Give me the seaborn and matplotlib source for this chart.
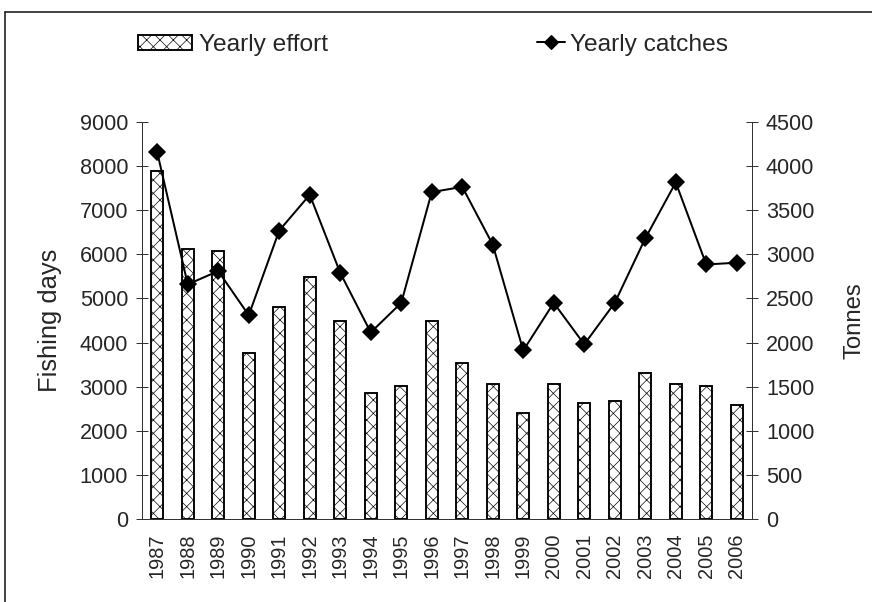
import matplotlib
matplotlib.use("Agg")
import matplotlib.pyplot as plt
from matplotlib.patches import Patch
from matplotlib.lines import Line2D
import seaborn as sns
import pandas as pd

years = ["1987", "1988", "1989", "1990", "1991", "1992", "1993", "1994", "1995", "1996",
         "1997", "1998", "1999", "2000", "2001", "2002", "2003", "2004", "2005", "2006"]
effort = [7900, 6130, 6080, 3770, 4810, 5490, 4500, 2860, 3010, 4500,
          3540, 3050, 2410, 3050, 2640, 2680, 3320, 3050, 3010, 2590]
catches = [4155, 2660, 2810, 2310, 3270, 3675, 2790, 2115, 2450, 3705,
           3765, 3110, 1910, 2450, 1980, 2450, 3180, 3815, 2885, 2905]
left_ticks = [0, 1000, 2000, 3000, 4000, 5000, 6000, 7000, 8000, 9000]
right_ticks = [0, 500, 1000, 1500, 2000, 2500, 3000, 3500, 4000, 4500]

df = pd.DataFrame({"year": years, "effort": effort, "catches": catches})

sns.set_style("white")
plt.rcParams["font.family"] = ["Liberation Sans", "DejaVu Sans"]
plt.rcParams["hatch.linewidth"] = 0.6
plt.rcParams["hatch.color"] = "#333333"

DPI = 80
fig = plt.figure(figsize=(872 / DPI, 602 / DPI), dpi=DPI)
ax = fig.add_axes([142 / 872, 1 - 519 / 602, (752 - 142) / 872, (519 - 122) / 602])

sns.barplot(data=df, x="year", y="effort", ax=ax, color="white", saturation=1,
            edgecolor="black", linewidth=1.7, width=0.4, hatch="xx")

ax2 = ax.twinx()
sns.pointplot(data=df, x="year", y="catches", ax=ax2, color="black",
              markers="D", linestyles="-", markersize=10, linewidth=1.8)

n = len(years)
for a in (ax, ax2):
    a.set_xlim(-0.5, n - 0.5)
    a.grid(False)
ax.set_ylim(0, 9000)
ax2.set_ylim(0, 4500)
ax.set_yticks(left_ticks)
ax2.set_yticks(right_ticks)
ax.set_yticklabels([str(v) for v in left_ticks])
ax2.set_yticklabels([str(v) for v in right_ticks])

ax.set_xticks(range(n))
ax.set_xticklabels(years, rotation=90, fontsize=18)
ax.set_xticks([i - 0.5 for i in range(n + 1)], minor=True)
ax.tick_params(axis="x", which="major", length=0, pad=13)
ax.tick_params(axis="x", which="minor", direction="inout", length=9, width=0.9, color="#333333")
ax2.tick_params(axis="x", which="both", length=0, labelbottom=False)

ax.tick_params(axis="y", direction="inout", length=11, width=0.9, color="#333333",
               labelsize=19.5, pad=7, left=True)
ax2.tick_params(axis="y", direction="inout", length=11, width=0.9, color="#333333",
                labelsize=19.5, pad=7, right=True)

ax.set_xlabel("")
ax.set_ylabel("Fishing days", fontsize=23, labelpad=16)
ax2.set_ylabel("Tonnes", fontsize=21.5, labelpad=26)

for a in (ax, ax2):
    a.spines["top"].set_visible(False)
    for s in ("left", "right", "bottom"):
        a.spines[s].set_color("#333333")
        a.spines[s].set_linewidth(0.9)
    a.patch.set_alpha(0)

# legends
h1 = Patch(facecolor="white", edgecolor="black", hatch="xx", linewidth=1.7)
fig.legend(handles=[h1], labels=["Yearly effort"], loc="center left",
           bbox_to_anchor=(138 / 872, 1 - 45 / 602), frameon=False, fontsize=22,
           handlelength=2.2, handleheight=0.55, handletextpad=0.3, borderpad=0,
           borderaxespad=0)
h2 = Line2D([0], [0], color="black", linewidth=1.8, marker="D", markersize=9)
fig.legend(handles=[h2], labels=["Yearly catches"], loc="center left",
           bbox_to_anchor=(537 / 872, 1 - 45 / 602), frameon=False, fontsize=22,
           handlelength=1.15, handletextpad=0.2, borderpad=0, borderaxespad=0)

# figure border (top and left visible)
fig.add_artist(Line2D([5 / 872, 5 / 872], [0, 1 - 12 / 602], color="#222222",
                      linewidth=1.5, transform=fig.transFigure))
fig.add_artist(Line2D([5 / 872, 1], [1 - 12 / 602, 1 - 12 / 602], color="#222222",
                      linewidth=1.5, transform=fig.transFigure))

fig.savefig("out.png", dpi=DPI)
